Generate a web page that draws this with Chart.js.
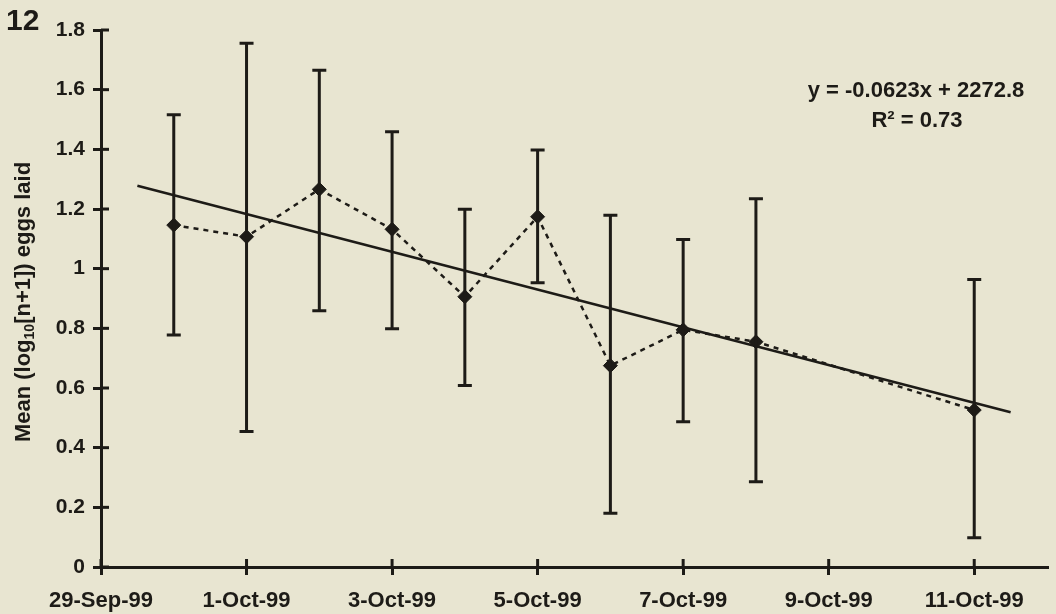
<!DOCTYPE html>
<html>
<head>
<meta charset="utf-8">
<script src="https://cdn.jsdelivr.net/npm/chart.js@4/dist/chart.umd.min.js"></script>
<style>
html,body{margin:0;padding:0;background:#e8e5d1;}
canvas{display:block;}
</style>
</head>
<body>
<canvas id="c" width="1056" height="614"></canvas>
<script>
// ---- data (x = days after 29-Sep-99) ----
const pointDays = [1, 2, 3, 4, 5, 6, 7, 8, 9, 12];
const meanEggs  = [1.146, 1.107, 1.266, 1.132, 0.906, 1.174, 0.675, 0.795, 0.755, 0.526];
const upperBar  = [1.516, 1.756, 1.665, 1.459, 1.199, 1.398, 1.179, 1.098, 1.234, 0.964];
const lowerBar  = [0.778, 0.454, 0.859, 0.799, 0.608, 0.953, 0.180, 0.487, 0.286, 0.098];
const trendDays = [0.5, 12.5];
const trendVals = [1.278, 0.519];
const tickDays  = [0, 2, 4, 6, 8, 10, 12];
const tickLabels = ['29-Sep-99', '1-Oct-99', '3-Oct-99', '5-Oct-99', '7-Oct-99', '9-Oct-99', '11-Oct-99'];
const panelLabel = '12';
const eqLine1 = 'y = -0.0623x + 2272.8';
const eqLine2 = 'R² = 0.73';

const INK = '#1d1b17';
const FONT = '"Liberation Sans", Arial, sans-serif';

const meanPts = pointDays.map((d, i) => ({x: d, y: meanEggs[i]}));
const trendPts = trendDays.map((d, i) => ({x: d, y: trendVals[i]}));

const bgPlugin = {
  id: 'bg',
  beforeDraw(chart) {
    const ctx = chart.ctx;
    ctx.save();
    ctx.fillStyle = '#e8e5d1';
    ctx.fillRect(0, 0, chart.width, chart.height);
    ctx.restore();
  }
};

const extrasPlugin = {
  id: 'extras',
  afterDatasetsDraw(chart) {
    const ctx = chart.ctx;
    const xs = chart.scales.x, ys = chart.scales.y;
    ctx.save();
    ctx.strokeStyle = INK;
    ctx.lineWidth = 3;
    ctx.lineCap = 'butt';
    // error bars
    pointDays.forEach((d, i) => {
      const px = xs.getPixelForValue(d);
      const pu = ys.getPixelForValue(upperBar[i]);
      const pl = ys.getPixelForValue(lowerBar[i]);
      ctx.beginPath();
      ctx.moveTo(px, pu); ctx.lineTo(px, pl);
      ctx.moveTo(px - 7, pu); ctx.lineTo(px + 7, pu);
      ctx.moveTo(px - 7, pl); ctx.lineTo(px + 7, pl);
      ctx.stroke();
    });
    // inner half of crossing tick marks
    const ca = chart.chartArea;
    ys.ticks.forEach(t => {
      const py = ys.getPixelForValue(t.value);
      ctx.beginPath(); ctx.moveTo(ca.left, py); ctx.lineTo(ca.left + 8, py); ctx.stroke();
    });
    xs.ticks.forEach(t => {
      const px = xs.getPixelForValue(t.value);
      ctx.beginPath(); ctx.moveTo(px, ca.bottom); ctx.lineTo(px, ca.bottom - 8); ctx.stroke();
    });
    ctx.restore();
  },
  afterDraw(chart) {
    const ctx = chart.ctx;
    ctx.save();
    ctx.fillStyle = INK;
    // panel label
    ctx.font = 'bold 30px ' + FONT;
    ctx.textAlign = 'left';
    ctx.textBaseline = 'alphabetic';
    ctx.fillText(panelLabel, 6, 30);
    // equation
    ctx.font = 'bold 22px ' + FONT;
    ctx.textAlign = 'center';
    ctx.fillText(eqLine1, 916, 97);
    ctx.fillText(eqLine2, 917, 127);
    // y axis title with subscript
    const cy = 302;
    const parts = [
      {t: 'Mean (log', f: 'bold 22px ' + FONT, dy: 0},
      {t: '10', f: 'bold 14px ' + FONT, dy: 4},
      {t: '[n+1]) eggs laid', f: 'bold 22px ' + FONT, dy: 0}
    ];
    let total = 0;
    parts.forEach(p => { ctx.font = p.f; p.w = ctx.measureText(p.t).width; total += p.w; });
    ctx.translate(30, cy);
    ctx.rotate(-Math.PI / 2);
    ctx.textAlign = 'left';
    let x = -total / 2;
    parts.forEach(p => { ctx.font = p.f; ctx.fillText(p.t, x, p.dy); x += p.w; });
    ctx.restore();
  }
};

new Chart(document.getElementById('c'), {
  type: 'scatter',
  data: {
    datasets: [
      {
        data: meanPts,
        showLine: true,
        borderColor: INK,
        borderWidth: 2.5,
        borderDash: [5, 5],
        pointStyle: 'rectRot',
        pointRadius: 7,
        pointHoverRadius: 7,
        pointBackgroundColor: INK,
        pointBorderColor: INK,
        pointBorderWidth: 1,
        tension: 0
      },
      {
        data: trendPts,
        showLine: true,
        borderColor: INK,
        borderWidth: 2.5,
        pointRadius: 0,
        pointHoverRadius: 0,
        tension: 0
      }
    ]
  },
  options: {
    responsive: false,
    animation: false,
    devicePixelRatio: 1,
    layout: {padding: {left: 0, top: 30, right: 9, bottom: 0}},
    plugins: {legend: {display: false}, tooltip: {enabled: false}, title: {display: false}},
    scales: {
      x: {
        type: 'linear',
        min: 0,
        max: 13,
        afterBuildTicks(scale) { scale.ticks = tickDays.map(v => ({value: v})); },
        afterFit(scale) { scale.height = 47; },
        ticks: {
          callback(v) { const i = tickDays.indexOf(v); return i >= 0 ? tickLabels[i] : ''; },
          color: INK,
          font: {family: FONT, size: 22, weight: 'bold'},
          padding: 13,
          maxRotation: 0,
          autoSkip: false
        },
        grid: {display: true, drawOnChartArea: false, drawTicks: true, tickLength: 8, color: INK, lineWidth: 3},
        border: {display: true, color: INK, width: 3}
      },
      y: {
        min: 0,
        max: 1.8,
        afterFit(scale) { scale.width = 101; },
        ticks: {
          stepSize: 0.2,
          callback(v) { return String(Math.round(v * 10) / 10); },
          color: INK,
          font: {family: FONT, size: 21, weight: 'bold'},
          padding: 8
        },
        grid: {display: true, drawOnChartArea: false, drawTicks: true, tickLength: 8, color: INK, lineWidth: 3},
        border: {display: true, color: INK, width: 3}
      }
    }
  },
  plugins: [bgPlugin, extrasPlugin]
});
</script>
</body>
</html>
